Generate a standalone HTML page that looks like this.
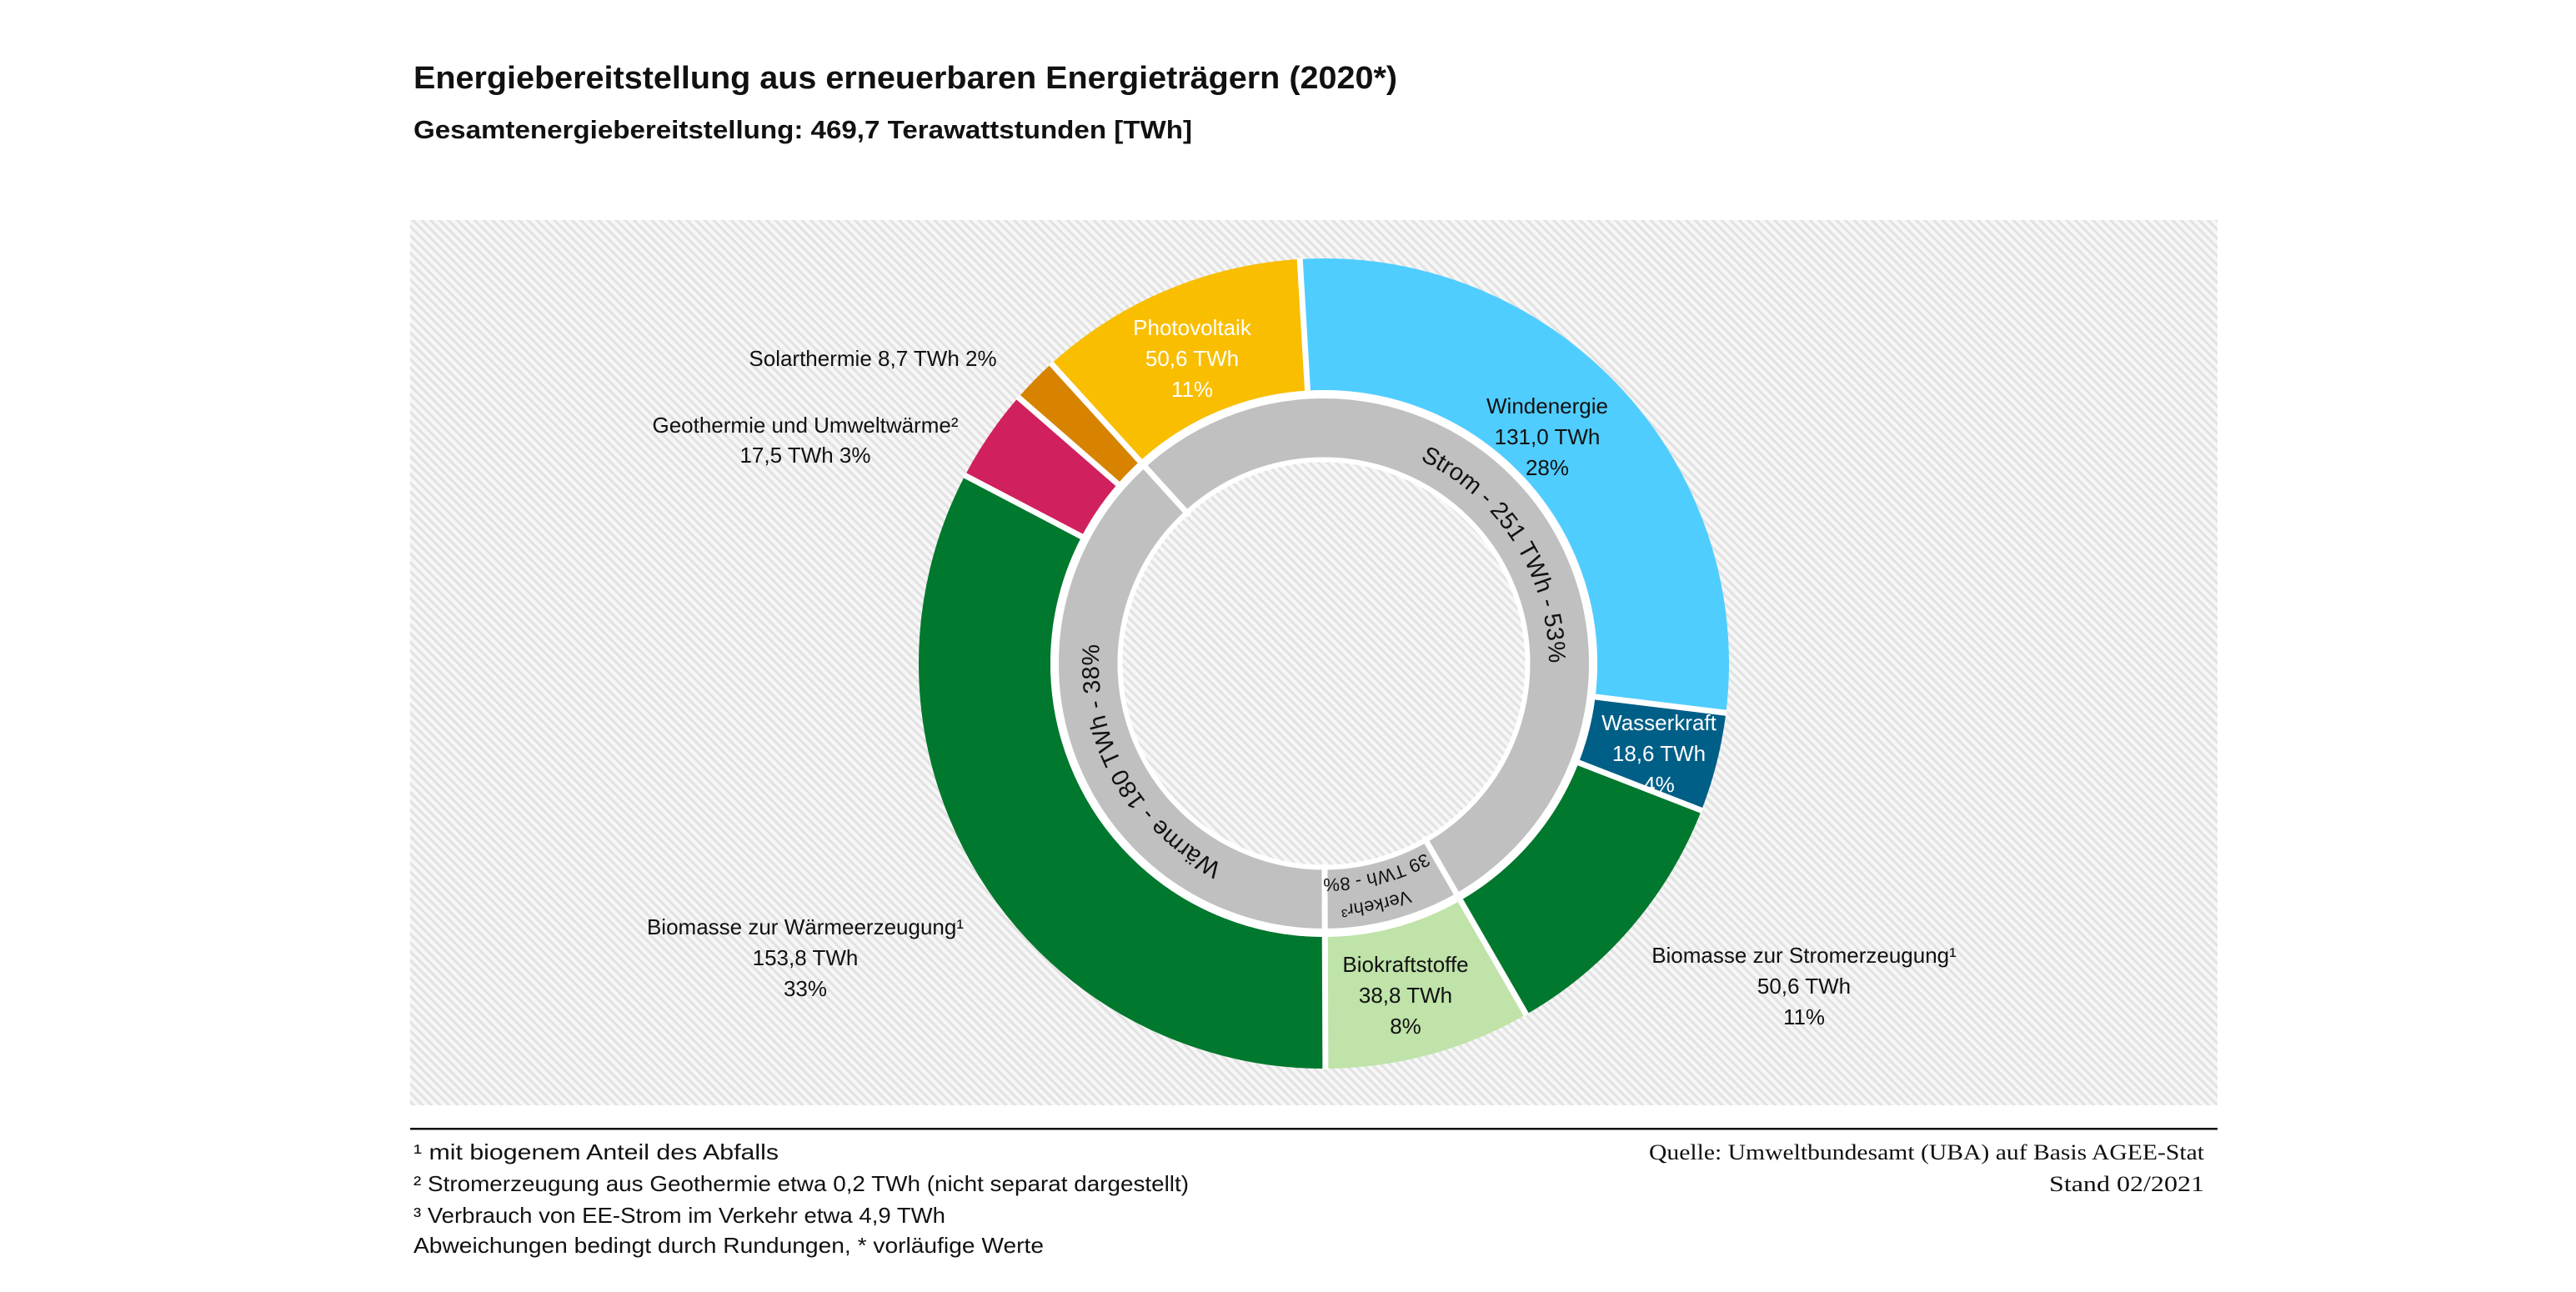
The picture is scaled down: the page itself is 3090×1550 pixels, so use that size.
<!DOCTYPE html>
<html><head><meta charset="utf-8">
<style>
html,body{margin:0;padding:0;background:#fff;}
svg{display:block;font-family:"Liberation Sans",sans-serif;}
</style></head>
<body>
<svg width="3090" height="1550" viewBox="0 0 3090 1550" xmlns="http://www.w3.org/2000/svg">
<defs>
<pattern id="h" patternUnits="userSpaceOnUse" width="20" height="7.5" patternTransform="rotate(45)">
<rect width="20" height="7.5" fill="#f7f7f7"/>
<rect width="20" height="3.2" fill="#e2e2e2"/>
</pattern>
</defs>
<rect width="3090" height="1550" fill="#fff"/>
<text x="496" y="106" font-size="38" font-weight="bold" fill="#111" textLength="1180" lengthAdjust="spacingAndGlyphs">Energiebereitstellung aus erneuerbaren Energieträgern (2020*)</text>
<text x="496" y="166" font-size="31" font-weight="bold" fill="#111" textLength="934" lengthAdjust="spacingAndGlyphs">Gesamtenergiebereitstellung: 469,7 Terawattstunden [TWh]</text>

<rect x="492" y="264" width="2168" height="1062" fill="url(#h)"/>

<g transform="translate(1588,796)">
  <g fill="none" stroke-width="158">
    <circle r="407" pathLength="360" stroke="#50cdff" stroke-dasharray="100.4 400" transform="rotate(-93.4)"/>
    <circle r="407" pathLength="360" stroke="#005f87" stroke-dasharray="14.26 400" transform="rotate(7)"/>
    <circle r="407" pathLength="360" stroke="#00782d" stroke-dasharray="38.78 400" transform="rotate(21.26)"/>
    <circle r="407" pathLength="360" stroke="#bfe3a9" stroke-dasharray="29.74 400" transform="rotate(60.04)"/>
    <circle r="407" pathLength="360" stroke="#00782d" stroke-dasharray="117.88 400" transform="rotate(89.78)"/>
    <circle r="407" pathLength="360" stroke="#d0205e" stroke-dasharray="13.41 400" transform="rotate(207.66)"/>
    <circle r="407" pathLength="360" stroke="#d78300" stroke-dasharray="6.67 400" transform="rotate(221.07)"/>
    <circle r="407" pathLength="360" stroke="#f9be00" stroke-dasharray="38.78 400" transform="rotate(227.74)"/>
  </g>
  <circle r="323" fill="none" stroke="#fff" stroke-width="10"/>
  <circle r="280" fill="none" stroke="#c0c0c0" stroke-width="76"/>
  <circle r="244.5" fill="none" stroke="#fff" stroke-width="6"/>
  <g stroke="#fff" stroke-width="7">
    <line x1="0" y1="-328" x2="0" y2="-487" transform="rotate(-3.4)"/>
    <line x1="0" y1="-328" x2="0" y2="-487" transform="rotate(97)"/>
    <line x1="0" y1="-328" x2="0" y2="-487" transform="rotate(111.26)"/>
    <line x1="0" y1="-328" x2="0" y2="-487" transform="rotate(150.04)"/>
    <line x1="0" y1="-328" x2="0" y2="-487" transform="rotate(179.78)"/>
    <line x1="0" y1="-328" x2="0" y2="-487" transform="rotate(297.66)"/>
    <line x1="0" y1="-328" x2="0" y2="-487" transform="rotate(311.07)"/>
    <line x1="0" y1="-328" x2="0" y2="-487" transform="rotate(317.74)"/>
    <line x1="0" y1="-240" x2="0" y2="-322" transform="rotate(317.74)"/>
    <line x1="0" y1="-240" x2="0" y2="-322" transform="rotate(150.04)"/>
    <line x1="0" y1="-240" x2="0" y2="-322" transform="rotate(179.78)"/>
  </g>
  <path id="p1" d="M0,-270 A270,270 0 1,1 0,270 A270,270 0 1,1 0,-270" fill="none"/>
  <path id="p2" d="M0,270 A270,270 0 1,1 0,-270 A270,270 0 1,1 0,270" fill="none"/>
  <path id="p3" d="M0,290 A290,290 0 1,1 0,-290 A290,290 0 1,1 0,290" fill="none"/>
  <path id="p4" d="M0,258 A258,258 0 1,1 0,-258 A258,258 0 1,1 0,258" fill="none"/>
  <text font-size="29" fill="#111"><textPath href="#p1" startOffset="16.0%" text-anchor="middle">Strom - 251 TWh - 53%</textPath></text>
  <text font-size="29" fill="#111"><textPath href="#p2" startOffset="16.9%" text-anchor="middle">Wärme - 180 TWh - 38%</textPath></text>
  <text font-size="22" fill="#111"><textPath href="#p3" startOffset="96.6%" text-anchor="middle">Verkehr³</textPath></text>
  <text font-size="22" fill="#111"><textPath href="#p4" startOffset="96.1%" text-anchor="middle">39 TWh - 8%</textPath></text>
</g>

<g font-size="26" text-anchor="middle">
  <g fill="#fff">
    <text x="1430" y="402">Photovoltaik</text>
    <text x="1430" y="439">50,6 TWh</text>
    <text x="1430" y="476">11%</text>
    <text x="1990" y="876">Wasserkraft</text>
    <text x="1990" y="913">18,6 TWh</text>
    <text x="1990" y="950">4%</text>
  </g>
  <g fill="#111">
    <text x="1856" y="496">Windenergie</text>
    <text x="1856" y="533">131,0 TWh</text>
    <text x="1856" y="570">28%</text>
    <text x="1686" y="1166">Biokraftstoffe</text>
    <text x="1686" y="1203">38,8 TWh</text>
    <text x="1686" y="1240">8%</text>
    <text x="2164" y="1155">Biomasse zur Stromerzeugung¹</text>
    <text x="2164" y="1192">50,6 TWh</text>
    <text x="2164" y="1229">11%</text>
    <text x="966" y="1121">Biomasse zur Wärmeerzeugung¹</text>
    <text x="966" y="1158">153,8 TWh</text>
    <text x="966" y="1195">33%</text>
    <text x="966" y="519">Geothermie und Umweltwärme²</text>
    <text x="966" y="555">17,5 TWh 3%</text>
    <text x="1047" y="439">Solarthermie 8,7 TWh 2%</text>
  </g>
</g>

<rect x="492" y="1353" width="2168" height="2.5" fill="#111"/>
<g font-size="26" fill="#111">
  <text x="496" y="1391" textLength="438" lengthAdjust="spacingAndGlyphs">¹ mit biogenem Anteil des Abfalls</text>
  <text x="496" y="1429" textLength="930" lengthAdjust="spacingAndGlyphs">² Stromerzeugung aus Geothermie etwa 0,2 TWh (nicht separat dargestellt)</text>
  <text x="496" y="1467" textLength="638" lengthAdjust="spacingAndGlyphs">³ Verbrauch von EE-Strom im Verkehr etwa  4,9 TWh</text>
  <text x="496" y="1503" textLength="756" lengthAdjust="spacingAndGlyphs">Abweichungen bedingt durch Rundungen, * vorläufige Werte</text>
</g>
<g font-size="26" fill="#111" font-family="'Liberation Serif',serif" text-anchor="end">
  <text x="2644" y="1391" textLength="666" lengthAdjust="spacingAndGlyphs">Quelle: Umweltbundesamt (UBA) auf Basis AGEE-Stat</text>
  <text x="2644" y="1429" textLength="186" lengthAdjust="spacingAndGlyphs">Stand 02/2021</text>
</g>
</svg>
</body></html>
